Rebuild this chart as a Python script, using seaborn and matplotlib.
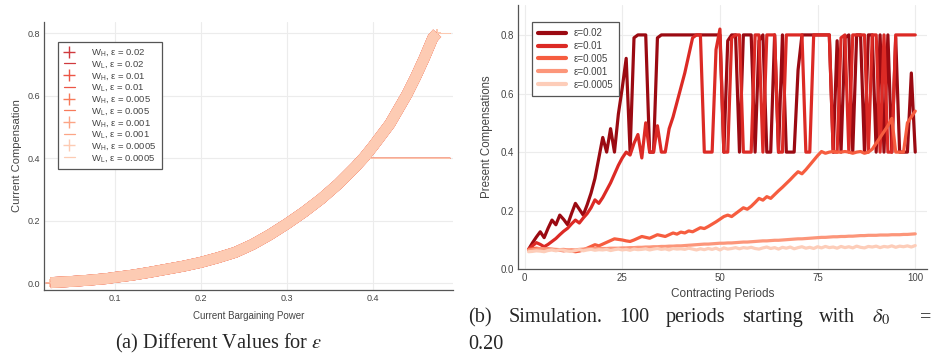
import pandas as pd
import numpy as np
import matplotlib
matplotlib.use("Agg")
import matplotlib.pyplot as plt
import seaborn as sns
from matplotlib.lines import Line2D

# ---- data: left panel (compensation vs bargaining power) ----
eps_labels = ["0.02", "0.01", "0.005", "0.001", "0.0005"]
power = [0.025, 0.03, 0.05, 0.07, 0.09, 0.10, 0.12, 0.14, 0.16, 0.18, 0.20, 0.22,
         0.24, 0.26, 0.28, 0.30, 0.32, 0.34, 0.36, 0.38, 0.39, 0.40, 0.42, 0.44,
         0.45, 0.46, 0.47, 0.475]
w_high = [0.002, 0.003, 0.006, 0.010, 0.015, 0.019, 0.026, 0.035, 0.045, 0.055,
          0.067, 0.082, 0.099, 0.124, 0.155, 0.190, 0.228, 0.270, 0.318, 0.373,
          0.403, 0.437, 0.510, 0.605, 0.660, 0.720, 0.785, 0.800]
power_tail = [0.475, 0.49]
w_high_tail = [0.800, 0.800]
power_low = [0.02, 0.03, 0.05, 0.07, 0.09, 0.10, 0.12, 0.14, 0.16, 0.18, 0.20, 0.22,
             0.24, 0.26, 0.28, 0.30, 0.32, 0.34, 0.36, 0.38, 0.39, 0.40, 0.44, 0.49]
w_low = [0.001, 0.002, 0.005, 0.009, 0.014, 0.018, 0.025, 0.034, 0.044, 0.054,
         0.066, 0.081, 0.098, 0.123, 0.154, 0.189, 0.227, 0.269, 0.317, 0.372,
         0.400, 0.400, 0.400, 0.400]

# ---- data: right panel (simulation, 100 periods) ----
periods = list(range(1, 101))
sim_002 = [0.068, 0.090, 0.110, 0.128, 0.108, 0.140, 0.168, 0.152, 0.185, 0.170,
           0.152, 0.190, 0.225, 0.205, 0.185, 0.220, 0.260, 0.310, 0.380, 0.450,
           0.400, 0.480, 0.400, 0.530, 0.620, 0.720, 0.400, 0.790, 0.800, 0.800,
           0.800, 0.400, 0.400, 0.790, 0.800, 0.800, 0.800, 0.800, 0.800, 0.800,
           0.800, 0.800, 0.800, 0.800, 0.800, 0.800, 0.800, 0.800, 0.800, 0.800,
           0.400, 0.780, 0.800, 0.800, 0.400, 0.800, 0.800, 0.800, 0.400, 0.780,
           0.800, 0.400, 0.400, 0.800, 0.400, 0.800, 0.400, 0.400, 0.400, 0.680,
           0.800, 0.800, 0.800, 0.800, 0.800, 0.800, 0.800, 0.800, 0.400, 0.780,
           0.400, 0.790, 0.800, 0.400, 0.800, 0.800, 0.400, 0.800, 0.800, 0.400,
           0.800, 0.400, 0.800, 0.400, 0.790, 0.400, 0.400, 0.400, 0.670, 0.400]
sim_001 = [0.068, 0.080, 0.091, 0.085, 0.077, 0.085, 0.095, 0.105, 0.118, 0.130,
           0.140, 0.155, 0.168, 0.158, 0.175, 0.190, 0.210, 0.237, 0.225, 0.245,
           0.270, 0.295, 0.325, 0.355, 0.380, 0.400, 0.390, 0.430, 0.460, 0.380,
           0.500, 0.400, 0.400, 0.490, 0.400, 0.400, 0.480, 0.520, 0.570, 0.620,
           0.670, 0.730, 0.790, 0.800, 0.800, 0.400, 0.400, 0.400, 0.750, 0.820,
           0.400, 0.400, 0.790, 0.800, 0.800, 0.400, 0.400, 0.400, 0.800, 0.800,
           0.400, 0.800, 0.800, 0.800, 0.400, 0.400, 0.800, 0.800, 0.800, 0.800,
           0.800, 0.400, 0.400, 0.800, 0.800, 0.800, 0.800, 0.800, 0.400, 0.400,
           0.790, 0.800, 0.400, 0.800, 0.800, 0.800, 0.800, 0.400, 0.800, 0.800,
           0.400, 0.800, 0.400, 0.400, 0.800, 0.800, 0.800, 0.800, 0.800, 0.800]
sim_0005 = [0.068, 0.070, 0.072, 0.070, 0.068, 0.070, 0.068, 0.066, 0.065, 0.063,
            0.065, 0.062, 0.060, 0.062, 0.066, 0.072, 0.078, 0.084, 0.080, 0.086,
            0.092, 0.098, 0.104, 0.102, 0.100, 0.097, 0.095, 0.100, 0.106, 0.112,
            0.109, 0.106, 0.112, 0.118, 0.115, 0.112, 0.118, 0.124, 0.120, 0.127,
            0.124, 0.131, 0.128, 0.135, 0.142, 0.139, 0.146, 0.154, 0.162, 0.171,
            0.180, 0.185, 0.180, 0.190, 0.200, 0.210, 0.205, 0.215, 0.228, 0.242,
            0.236, 0.248, 0.242, 0.255, 0.268, 0.280, 0.293, 0.306, 0.320, 0.333,
            0.326, 0.340, 0.356, 0.372, 0.388, 0.402, 0.396, 0.400, 0.402, 0.400,
            0.400, 0.402, 0.400, 0.396, 0.400, 0.402, 0.396, 0.400, 0.410, 0.430,
            0.450, 0.470, 0.490, 0.515, 0.400, 0.400, 0.400, 0.500, 0.520, 0.540]
sim_0001 = [0.065, 0.067, 0.069, 0.071, 0.070, 0.068, 0.069, 0.068, 0.067, 0.068,
            0.066, 0.067, 0.066, 0.068, 0.069, 0.070, 0.070, 0.071, 0.071, 0.071,
            0.071, 0.072, 0.072, 0.072, 0.073, 0.073, 0.074, 0.074, 0.075, 0.075,
            0.076, 0.076, 0.077, 0.077, 0.078, 0.078, 0.079, 0.079, 0.080, 0.080,
            0.081, 0.082, 0.083, 0.084, 0.085, 0.086, 0.086, 0.087, 0.088, 0.089,
            0.089, 0.090, 0.090, 0.091, 0.092, 0.093, 0.093, 0.094, 0.095, 0.096,
            0.097, 0.097, 0.098, 0.099, 0.099, 0.100, 0.101, 0.102, 0.103, 0.104,
            0.104, 0.105, 0.106, 0.107, 0.108, 0.109, 0.109, 0.110, 0.111, 0.111,
            0.112, 0.112, 0.113, 0.113, 0.114, 0.115, 0.115, 0.116, 0.116, 0.116,
            0.117, 0.117, 0.117, 0.118, 0.118, 0.118, 0.119, 0.119, 0.120, 0.121]
sim_00005 = [0.060, 0.061, 0.063, 0.062, 0.060, 0.064, 0.066, 0.063, 0.066, 0.065,
             0.062, 0.061, 0.064, 0.067, 0.063, 0.066, 0.068, 0.065, 0.067, 0.066,
             0.068, 0.064, 0.067, 0.069, 0.066, 0.068, 0.065, 0.069, 0.067, 0.068,
             0.070, 0.066, 0.069, 0.071, 0.068, 0.070, 0.066, 0.071, 0.069, 0.070,
             0.068, 0.072, 0.069, 0.066, 0.070, 0.067, 0.071, 0.068, 0.072, 0.066,
             0.073, 0.069, 0.071, 0.074, 0.070, 0.074, 0.072, 0.075, 0.071, 0.069,
             0.073, 0.076, 0.071, 0.074, 0.069, 0.075, 0.072, 0.076, 0.070, 0.074,
             0.077, 0.072, 0.075, 0.071, 0.077, 0.073, 0.078, 0.074, 0.076, 0.072,
             0.078, 0.074, 0.077, 0.073, 0.079, 0.075, 0.073, 0.078, 0.076, 0.079,
             0.074, 0.078, 0.076, 0.080, 0.075, 0.079, 0.077, 0.080, 0.076, 0.081]

left_colors = ["#d03a3e", "#ec5646", "#f77a5a", "#fca586", "#fdcbb3"]
right_colors = ["#9b0a12", "#dc2a25", "#f65d3f", "#fc967a", "#fdcdb9"]

sns.set_style("white")
plt.rcParams["font.family"] = ["Liberation Sans", "DejaVu Sans"]
plt.rcParams["mathtext.fontset"] = "stix"
txt = "#444444"

fig = plt.figure(figsize=(9.35, 3.62), dpi=100)
ax1 = fig.add_axes([0.0471, 0.1989, 0.4374, 0.7403])
ax2 = fig.add_axes([0.554, 0.2561, 0.4374, 0.7300])

# ---- left panel ----
handles = []
for eps, col in zip(eps_labels, left_colors):
    sns.lineplot(x=power, y=w_high, ax=ax1, color=col, linewidth=7.8,
                 solid_capstyle="butt", legend=False, sort=False)
    sns.scatterplot(x=power, y=w_high, ax=ax1, color=col, marker="+", s=40,
                    linewidth=1.4, legend=False)
    sns.lineplot(x=power_tail, y=w_high_tail, ax=ax1, color=col, linewidth=0.7,
                 legend=False, sort=False)
    sns.lineplot(x=power_low, y=w_low, ax=ax1, color=col, linewidth=0.8,
                 legend=False, sort=False)
    handles.append(Line2D([], [], color=col, marker="+", linestyle="none",
                          markersize=8, markeredgewidth=1.0,
                          label=r"W$_\mathregular{H}$, ε = " + eps))
    handles.append(Line2D([], [], color=col, linewidth=0.9,
                          label=r"W$_\mathregular{L}$, ε = " + eps))

ax1.set_xlim(0.0175, 0.4935)
ax1.set_ylim(-0.0214, 0.836)
ax1.set_xticks([0.1, 0.2, 0.3, 0.4])
ax1.set_yticks([0.0, 0.2, 0.4, 0.6, 0.8])
ax1.set_xlabel("Current Bargaining Power", fontsize=7, color=txt, labelpad=6)
ax1.set_ylabel("Current Compensation", fontsize=8, color=txt, labelpad=4)
leg1 = ax1.legend(handles=handles, loc="upper left", bbox_to_anchor=(0.034, 0.925),
                  fontsize=6.8, frameon=True, fancybox=False, handlelength=1.2,
                  labelspacing=0.14, borderpad=0.6, handletextpad=1.7,
                  borderaxespad=0)
for t in leg1.get_texts():
    t.set_color(txt)

# ---- right panel ----
sim = pd.DataFrame({
    "period": periods * 5,
    "value": sim_002 + sim_001 + sim_0005 + sim_0001 + sim_00005,
    "eps": sum([["ε=" + e] * len(periods) for e in eps_labels], []),
})
sns.lineplot(data=sim, x="period", y="value", hue="eps", palette=right_colors,
             hue_order=["ε=" + e for e in eps_labels], linewidth=2.3,
             estimator=None, sort=False, ax=ax2)
ax2.set_xlim(-1.7, 103)
ax2.set_ylim(0, 0.902)
ax2.set_xticks([0, 25, 50, 75, 100])
ax2.set_yticks([0.0, 0.2, 0.4, 0.6, 0.8])
ax2.set_xlabel("Contracting Periods", fontsize=8.5, color=txt, labelpad=3)
ax2.set_ylabel("Present Compensations", fontsize=8.3, color=txt, labelpad=5)
leg2 = ax2.legend(loc="upper left", bbox_to_anchor=(0.034, 0.935), fontsize=7,
                  frameon=True, fancybox=False, handlelength=2.9,
                  labelspacing=0.3, borderpad=0.6, handletextpad=0.8,
                  borderaxespad=0)
for line in leg2.get_lines():
    line.set_linewidth(3)
for t in leg2.get_texts():
    t.set_color(txt)

for ax in (ax1, ax2):
    ax.grid(True, color="#ececec", linewidth=0.8)
    ax.set_axisbelow(True)
    for s in ("top", "right"):
        ax.spines[s].set_visible(False)
    for s in ("left", "bottom"):
        ax.spines[s].set_color("#555555")
        ax.spines[s].set_linewidth(0.9)
    ax.tick_params(direction="in", length=3, width=0.6, colors="#555555",
                   labelsize=6.5, labelcolor=txt, pad=3)
for leg in (leg1, leg2):
    fr = leg.get_frame()
    fr.set_edgecolor("#555555")
    fr.set_linewidth(0.9)
    fr.set_alpha(1)
ax2.tick_params(labelsize=7)

# captions (the (b) line is stretched across the column, like the source)
serif = "Liberation Serif"
fsz = 14.6
fig.text(0.234, 0.052, r"(a) Different Values for $\varepsilon$", ha="center",
         va="center", fontsize=fsz, family=serif)
words = ["(b)", "Simulation.", "100", "periods", "starting", "with", r"$\delta_0$"]
renderer = fig.canvas.get_renderer()
x0, x1 = 468.0, 890.0
pieces = []
for w in words:
    t = fig.text(0, 0.122, w, ha="left", va="center", fontsize=fsz, family=serif)
    pieces.append((t, t.get_window_extent(renderer).width))
gap = (x1 - x0 - sum(p[1] for p in pieces)) / (len(pieces) - 1)
xpos = x0
for t, w in pieces:
    t.set_x(xpos / 935.0)
    xpos += w + gap
fig.text(931 / 935.0, 0.122, "=", ha="right", va="center", fontsize=fsz,
         family=serif)
fig.text(x0 / 935.0, 0.047, "0.20", ha="left", va="center", fontsize=fsz,
         family=serif)

fig.savefig("out.png", dpi=100)
